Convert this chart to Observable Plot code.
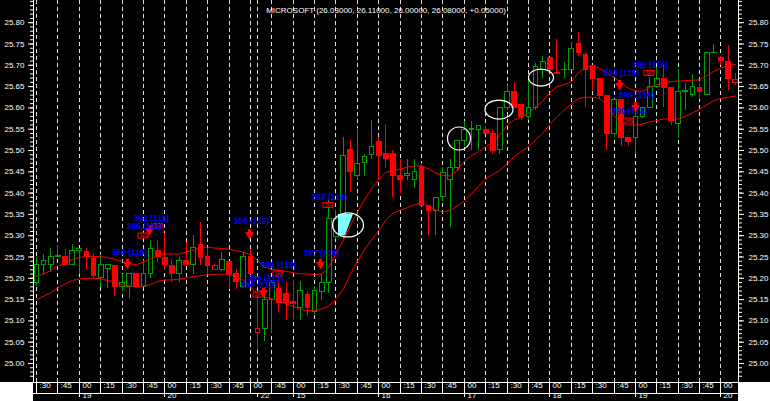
<!DOCTYPE html>
<html><head><meta charset="utf-8">
<script src="https://cdn.jsdelivr.net/npm/d3@7"></script>
<script src="https://cdn.jsdelivr.net/npm/@observablehq/plot@0.6"></script>
<style>
html,body{margin:0;padding:0;background:#000;}
#wrap{position:relative;width:770px;height:401px;overflow:hidden;}
.corner{position:absolute;top:382px;height:19px;background:#fff;}
</style></head><body>
<div id="wrap"><div id="chart"></div><div class="corner" style="left:0;width:33px"></div><div class="corner" style="left:738px;width:32px"></div></div>
<script>
const title = "MICROSOFT (26.03000, 26.11000, 26.00000, 26.08000, +0.05000)";
// candles, index 0..98 (5-minute bars)
const open = [25.188,25.232,25.232,25.249,25.249,25.231,25.264,25.262,25.246,25.201,25.222,25.229,25.180,25.179,25.209,25.179,25.210,25.265,25.248,25.229,25.210,25.240,25.231,25.279,25.249,25.220,25.220,25.239,25.209,25.179,25.249,
25.071,25.080,25.150,25.175,25.164,25.145,25.131,25.160,25.120,25.167,25.188,25.296,25.297,25.501,25.439,25.470,25.490,25.519,25.491,25.491,25.440,25.439,25.430,25.461,25.369,25.359,25.390,25.431,25.459,25.522,25.548,25.548,25.549,25.539,25.500,25.600,25.637,25.607,25.578,25.600,25.689,25.717,25.682,25.688,25.689,25.749,25.723,25.698,25.668,25.629,25.539,25.619,25.530,25.530,25.578,25.600,25.649,25.668,25.647,25.562,25.637,25.631,25.647,25.631,25.729,25.717,25.707,25.658];
const high = [25.249,25.256,25.270,25.278,25.268,25.280,25.270,25.270,25.258,25.257,25.231,25.229,25.208,25.210,25.209,25.242,25.289,25.289,25.305,25.245,25.249,25.285,25.300,25.332,25.270,25.233,25.261,25.239,25.220,25.260,25.265,
25.150,25.170,25.195,25.195,25.190,25.195,25.193,25.170,25.180,25.210,25.383,25.360,25.531,25.523,25.551,25.490,25.570,25.530,25.561,25.500,25.478,25.478,25.478,25.469,25.370,25.389,25.461,25.478,25.524,25.567,25.568,25.557,25.557,25.549,25.600,25.652,25.660,25.610,25.664,25.705,25.720,25.717,25.760,25.707,25.754,25.776,25.730,25.700,25.668,25.629,25.620,25.619,25.530,25.590,25.600,25.672,25.695,25.700,25.647,25.689,25.658,25.678,25.660,25.729,25.749,25.720,25.746,25.680];
const low = [25.181,25.208,25.214,25.249,25.230,25.231,25.210,25.220,25.199,25.178,25.177,25.158,25.169,25.152,25.179,25.179,25.200,25.238,25.218,25.191,25.191,25.230,25.210,25.230,25.210,25.218,25.215,25.173,25.173,25.175,25.209,
25.030,25.052,25.070,25.120,25.100,25.100,25.100,25.110,25.115,25.148,25.164,25.290,25.290,25.402,25.430,25.439,25.480,25.430,25.458,25.390,25.400,25.430,25.410,25.369,25.300,25.300,25.380,25.320,25.450,25.510,25.500,25.500,25.539,25.490,25.490,25.595,25.600,25.570,25.570,25.595,25.668,25.688,25.680,25.668,25.689,25.720,25.600,25.641,25.620,25.500,25.530,25.509,25.510,25.490,25.575,25.600,25.645,25.600,25.559,25.527,25.595,25.625,25.620,25.630,25.729,25.700,25.640,25.652];
const close = [25.232,25.240,25.251,25.253,25.231,25.265,25.269,25.249,25.206,25.231,25.2315,25.179,25.188,25.210,25.179,25.210,25.269,25.249,25.231,25.210,25.240,25.231,25.270,25.248,25.230,25.229,25.242,25.210,25.191,25.251,25.209,
25.082,25.150,25.188,25.142,25.141,25.140,25.170,25.131,25.170,25.190,25.340,25.340,25.486,25.449,25.469,25.484,25.509,25.488,25.479,25.441,25.431,25.444,25.449,25.369,25.359,25.389,25.447,25.459,25.522,25.547,25.550,25.557,25.539,25.498,25.600,25.637,25.600,25.578,25.600,25.695,25.708,25.688,25.680,25.689,25.739,25.728,25.689,25.668,25.629,25.539,25.619,25.530,25.520,25.578,25.600,25.649,25.668,25.646,25.569,25.637,25.639,25.649,25.637,25.729,25.730,25.710,25.668,25.666];
// moving averages (per bar)
const maFast = [25.205,25.210,25.218,25.228,25.237,25.244,25.249,25.251,25.251,25.251,25.249,25.245,25.239,25.234,25.232,25.238,25.246,25.253,25.257,25.257,25.257,25.262,25.266,25.273,25.273,25.271,25.270,25.268,25.265,25.261,25.256,
25.242,25.226,25.221,25.219,25.216,25.213,25.2105,25.210,25.209,25.210,25.225,25.255,25.290,25.325,25.355,25.385,25.410,25.430,25.449,25.452,25.457,25.461,25.464,25.464,25.457,25.447,25.442,25.440,25.455,25.475,25.488,25.497,25.508,25.520,25.535,25.560,25.572,25.578,25.587,25.603,25.615,25.635,25.649,25.655,25.661,25.683,25.695,25.700,25.693,25.682,25.671,25.658,25.646,25.640,25.639,25.648,25.654,25.659,25.662,25.663,25.664,25.665,25.666,25.675,25.685,25.693,25.700,25.702];
const maSlow = [25.150,25.158,25.166,25.177,25.187,25.195,25.199,25.200,25.200,25.199,25.195,25.190,25.185,25.182,25.181,25.182,25.185,25.193,25.196,25.196,25.198,25.201,25.204,25.206,25.208,25.209,25.210,25.209,25.203,25.195,25.180,
25.163,25.156,25.152,25.147,25.140,25.133,25.127,25.124,25.124,25.128,25.134,25.150,25.175,25.210,25.240,25.267,25.290,25.312,25.335,25.352,25.360,25.366,25.373,25.377,25.370,25.360,25.356,25.359,25.370,25.382,25.398,25.416,25.433,25.443,25.453,25.470,25.486,25.498,25.509,25.525,25.540,25.560,25.578,25.595,25.610,25.622,25.625,25.625,25.622,25.606,25.580,25.566,25.560,25.559,25.562,25.567,25.570,25.574,25.574,25.574,25.580,25.588,25.597,25.607,25.617,25.622,25.625,25.628];
// x axis ticks (bar index) and labels
const gridIdx = [0,3,6,9,12,15,18,21,24,27,30,31,33,36,39,42,45,48,51,54,57,60,63,66,69,72,75,78,81,84,87,90,93,96];
const timeIdx = [0,3,6,9,12,15,18,21,24,27,30,33,36,39,42,45,48,51,54,57,60,63,66,69,72,75,78,81,84,87,90,93,96];
const timeText = [":30",":45","00",":15",":30",":45","00",":15",":30",":45","00",":45","00",":15",":30",":45","00",":15",":30",":45","00",":15",":30",":45","00",":15",":30",":45","00",":15",":30",":45","00"];
const hourIdx = [6,18,31,36,48,60,72,84,96];
const hourText = ["19","20","22","15","16","17","18","19","20"];
const yMajor = [25.00,25.05,25.10,25.15,25.20,25.25,25.30,25.35,25.40,25.45,25.50,25.55,25.60,25.65,25.70,25.75,25.80];
// annotations
const labelX = [10.48,12.62,13.6,27.63,31.42,29.6,28.6,37.45,38.57,79.5,83.6,81.6,80.6];
const labelY = [25.2606,25.3216,25.340,25.3333,25.2312,25.2007,25.183,25.2594,25.3908,25.6808,25.7007,25.629,25.5915];
const labelText = ["396 (110)","396 (111)","398 (111)","396 (112)","398 (113)","396 (113)","396 (112)","397 (116)","397 (114)","390 (115)","390 (116)","390 (116)","390 (114)"];
const arrowX = [12.8,15.85,29.9,31.8,39.8,81.8,84.0];
const arrowTip = [25.221,25.300,25.291,25.155,25.221,25.641,25.589];
const sellX = [15.0,16.97,33.94,31.07,40.95,85.97,83.1];
const sellY = [25.2993,25.3216,25.2101,25.1608,25.3709,25.6808,25.5692];
const ellX = [43.7,59.3,64.9,70.8];
const ellY = [25.324,25.527,25.595,25.670];
const ellRx = [15.5,11.5,14,12.5];
const ellRy = [12,11.5,9.5,8.5];
const shadeY = [25.300,25.3498];
const shadeX1 = [42.36,42.36];
const shadeX2 = [43.35,44.47];

const GREEN = "#00a000", RED = "#ff0000";
const yLo = 24.9554, yHi = 25.8521;
const pxv = (yHi - yLo) / 382;
// colour by change versus previous close, hollow when close is above open
const candles = d3.range(open.length).map(i => {
  const col = (i === 0 || close[i] >= close[i - 1]) ? GREEN : RED;
  return {i, o: open[i], h: high[i], l: low[i], c: close[i], col, fill: close[i] > open[i] ? "#000" : col};
});
const labels = labelText.map((t, k) => ({x: labelX[k], y: labelY[k], t}));
const arrows = arrowX.map((x, k) => ({x, y: arrowTip[k]}));
const sells = sellX.map((x, k) => ({x, y: sellY[k]}));
const yMinor = d3.range(2497, 2586).map(v => v / 100);

const chart = Plot.plot({
  width: 770, height: 401,
  marginLeft: 33, marginRight: 32, marginTop: 0, marginBottom: 19,
  style: {background: "#000", color: "#fff", fontFamily: "'Liberation Sans', Arial, sans-serif", fontSize: "8px"},
  x: {type: "linear", domain: [-0.42, 98.46], axis: null, round: true},
  y: {domain: [yLo, yHi], axis: null},
  marks: [
    Plot.ruleX(gridIdx, {x: d => d, stroke: "#e0e0e0", strokeDasharray: "4,3"}),
    Plot.ruleX(candles, {x: "i", y1: "l", y2: "h", stroke: "col", shapeRendering: "crispEdges"}),
    Plot.rect(candles, {x1: d => d.i - 0.33, x2: d => d.i + 0.33, y1: "o", y2: "c", fill: "fill", stroke: "col", shapeRendering: "crispEdges"}),
    Plot.areaX({length: 2}, {y: (d, k) => shadeY[k], x1: (d, k) => shadeX1[k], x2: (d, k) => shadeX2[k], fill: "#80ffff"}),
    Plot.line(maFast, {x: (d, i) => i, y: d => d, stroke: RED, strokeWidth: 1}),
    Plot.line(maSlow, {x: (d, i) => i, y: d => d, stroke: RED, strokeWidth: 1}),
    Plot.rect(sells, {x1: d => d.x - 0.7, x2: d => d.x + 0.7, y1: d => d.y - 2.5 * pxv, y2: d => d.y + 2.5 * pxv, fill: "#000", stroke: RED}),
    Plot.text(sells, {x: "x", y: "y", text: () => "Sell", fill: RED, fontSize: 4.5}),
    Plot.ruleX(arrows, {x: "x", y1: d => d.y + 10 * pxv, y2: d => d.y + 4 * pxv, stroke: RED, strokeWidth: 3}),
    Plot.dot(arrows, {x: "x", y: d => d.y + 5 * pxv, symbol: "triangle", rotate: 180, r: 3.3, fill: RED, stroke: null}),
    Plot.text(labels, {x: "x", y: "y", text: "t", textAnchor: "start", fill: "#0000ff", fontSize: 8.5, fontWeight: "bold"}),
    Plot.text([title], {frameAnchor: "top", dy: 7, fill: "#fff", fontSize: 8}),
    // y axes
    Plot.ruleX([-0.42, 98.46], {stroke: "#fff"}),
    Plot.axisY(yMajor, {anchor: "right", tickSize: 5, tickPadding: 5, tickFormat: d => d.toFixed(2), stroke: "#fff", fill: "#fff", fontSize: 8}),
    Plot.axisY(yMinor, {anchor: "right", tickSize: 3, tickFormat: () => "", stroke: "#fff"}),
    Plot.axisY(yMajor, {anchor: "left", tickSize: 5, tickPadding: 4, tickFormat: d => d.toFixed(2), stroke: "#fff", fill: "#fff", fontSize: 8}),
    Plot.axisY(yMinor, {anchor: "left", tickSize: 3, tickFormat: () => "", stroke: "#fff"}),
    // x axis rows
    Plot.ruleY([yLo, yLo - 11 * pxv], {stroke: "#fff"}),
    Plot.ruleX(timeIdx, {x: d => d, y1: yLo, y2: yLo - 11 * pxv, stroke: "#fff"}),
    Plot.text(timeIdx, {x: d => d, frameAnchor: "bottom", dy: 5.5, dx: 3, textAnchor: "start", text: (d, k) => timeText[k], fill: "#fff", fontSize: 8}),
    Plot.ruleX(hourIdx, {x: d => d, y1: yLo - 11 * pxv, y2: yLo - 15 * pxv, stroke: "#fff"}),
    Plot.text(hourIdx, {x: d => d, frameAnchor: "bottom", dy: 15.5, dx: 3, textAnchor: "start", text: (d, k) => hourText[k], fill: "#fff", fontSize: 8})
  ]
});
document.getElementById("chart").appendChild(chart);
const sx = chart.scale("x"), sy = chart.scale("y");
d3.select(chart).append("g").attr("fill", "none").attr("stroke", "#fff").attr("stroke-width", 1.2)
  .selectAll("ellipse").data(ellX.map((x, k) => ({x, y: ellY[k], rx: ellRx[k], ry: ellRy[k]})))
  .join("ellipse")
  .attr("cx", d => sx.apply(d.x)).attr("cy", d => sy.apply(d.y))
  .attr("rx", d => d.rx).attr("ry", d => d.ry);
</script>
</body></html>
